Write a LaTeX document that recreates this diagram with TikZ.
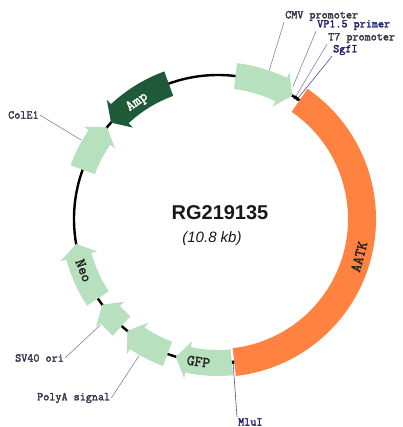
\documentclass[tikz,border=0pt]{standalone}
\usepackage{fontspec}
\setmainfont{Liberation Sans}
\setmonofont{Latin Modern Mono}[BoldFont={Latin Modern Mono}, BoldFeatures={FakeBold=2.2}]
\usepackage{xcolor}
\usepackage{tikz}
\usetikzlibrary{positioning}
\definecolor{rgpale}{HTML}{B7E1BE}
\definecolor{rgdark}{HTML}{1E5A37}
\definecolor{rgorange}{HTML}{FF8240}
\definecolor{rgtext}{HTML}{34344A}
\definecolor{rgnavy}{HTML}{1F1F75}
\definecolor{rgleader}{HTML}{8080A8}
\tikzset{
    maplabel/.style={font=\ttfamily\bfseries\fontsize{11.8}{12}\selectfont, text=rgtext, inner sep=1pt},
    sitelabel/.style={maplabel, text=rgnavy},
    featname/.style={font=\ttfamily\bfseries\fontsize{15}{15}\selectfont, text=black!85, inner sep=0pt},
    leader/.style={draw=rgleader, line width=0.6pt},
    siteleader/.style={draw=rgnavy!80, line width=0.6pt}
}
% feature arrow on the ring: #1 tail angle, #2 tip angle, #3 colour
\newcommand{\featarrow}[3]{
    \pgfmathsetmacro{\headang}{#2+5*sign(#1-#2)}
    \fill[#3] (#1:131pt) arc[start angle=#1, end angle=\headang, radius=131pt]
        -- (\headang:125pt) -- (#2:144pt) -- (\headang:163pt) -- (\headang:157pt)
        arc[start angle=\headang, end angle=#1, radius=157pt] -- cycle;
}

\begin{document}
\begin{tikzpicture}[x=1pt,y=1pt]
    \useasboundingbox (0,0) rectangle (402,427);

    \begin{scope}[shift={(218,208)}]
        % backbone
        \draw[line width=2.4pt] (0,0) circle[radius=144pt];
        % AATK insert
        \fill[rgorange] (55.5:130pt) arc[start angle=55.5, end angle=-83.5, radius=130pt]
            -- (-83.5:158pt) arc[start angle=-83.5, end angle=55.5, radius=158pt] -- cycle;
        % features
        \featarrow{83}{59}{rgpale}
        \featarrow{275.5}{253}{rgpale}
        \featarrow{249.5}{231}{rgpale}
        \featarrow{228}{216.5}{rgpale}
        \featarrow{213.5}{190}{rgpale}
        \featarrow{160}{140.5}{rgpale}
        \featarrow{110}{138}{rgdark}
        % sites
        \draw[line width=3.4pt] (58:144pt) arc[start angle=58, end angle=57.2, radius=144pt];
        \draw[line width=3.4pt] (56.9:144pt) arc[start angle=56.9, end angle=56.1, radius=144pt];
        \draw[line width=3.4pt] (276.3:144pt) arc[start angle=276.3, end angle=275.6, radius=144pt];

        \node[featname, text=white, rotate=35] (ampname) at (124.7:142pt) {Amp};
        \node[featname, rotate=-69] (neoname) at (201:144pt) {Neo};
        \node[featname, rotate=-8] (gfpname) at (262.2:144pt) {GFP};
        \node[featname, rotate=75] (aatkname) at (-15:146pt) {AATK};

        \coordinate (cmvpt) at (71:158pt);
        \coordinate (vppt) at (60.5:152pt);
        \coordinate (t7pt) at (57.6:146pt);
        \coordinate (sgfpt) at (56.5:145pt);
        \coordinate (colept) at (150:158pt);
        \coordinate (svpt) at (222:158pt);
        \coordinate (polyapt) at (240:158pt);
        \coordinate (mlupt) at (276:144pt);
    \end{scope}

    \node[font=\bfseries\fontsize{20}{22}\selectfont, text=black!90] (rgname) at (220,214) {RG219135};
    \node[font=\itshape\fontsize{15}{17}\selectfont, text=black!90, below=4pt of rgname, xshift=-8pt] (rgsize) {(10.8 kb)};

    \node[maplabel, anchor=west] (cmvlabel) at (284,411) {CMV promoter};
    \node[sitelabel, anchor=west] (vplabel) at (316,402) {VP1.5 primer};
    \node[maplabel, anchor=west] (t7label) at (327,389) {T7 promoter};
    \node[sitelabel, anchor=west] (sgflabel) at (332,377) {SgfI};
    \node[maplabel, anchor=west] (colelabel) at (7,312) {ColE1};
    \node[maplabel, anchor=west] (svlabel) at (14,69) {SV40 ori};
    \node[maplabel, anchor=west] (polyalabel) at (36,29) {PolyA signal};
    \node[sitelabel, anchor=west] (mlulabel) at (237,5) {MluI};

    \draw[leader] (cmvlabel.south west) -- (cmvpt);
    \draw[leader] (vplabel.south west) -- (vppt);
    \draw[leader] (t7label.south west) -- (t7pt);
    \draw[siteleader] (sgflabel.south west) -- (sgfpt);
    \draw[leader] (colelabel.east) -- (colept);
    \draw[leader] (svlabel.east) -- (svpt);
    \draw[leader] (polyalabel.east) -- (polyapt);
    \draw[siteleader] (mlulabel.north west) -- (mlupt);
\end{tikzpicture}
\end{document}
